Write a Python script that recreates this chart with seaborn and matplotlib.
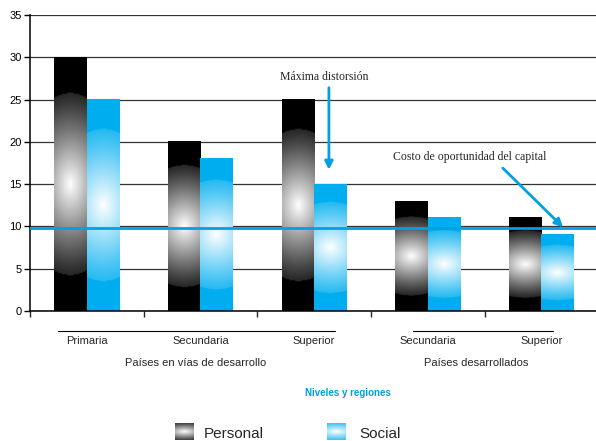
import numpy as np
import pandas as pd
import matplotlib
matplotlib.use('Agg')
import matplotlib.pyplot as plt
import seaborn as sns

# datos
claves = ['Primaria_dev', 'Secundaria_dev', 'Superior_dev', 'Secundaria_des', 'Superior_des']
etiquetas = ['Primaria', 'Secundaria', 'Superior', 'Secundaria', 'Superior']
personal = [30, 20, 25, 13, 11]
social = [25, 18, 15, 11, 9]
regiones = ['Países en vías de desarrollo', 'Países desarrollados']
costo_capital = 9.8

NEGRO = '#000000'
CIAN = '#00AEEF'
LINEA = '#00A0E3'

df = pd.DataFrame({
    'clave': claves * 2,
    'valor': personal + social,
    'tipo': ['Personal'] * len(personal) + ['Social'] * len(social),
})

sns.set_style('white')
plt.rcParams['font.family'] = ['Liberation Sans', 'DejaVu Sans']

fig = plt.figure(figsize=(5.96, 4.41), dpi=100)
ax = fig.add_axes([30 / 596, 1 - 311 / 441, 566 / 596, 296 / 441])

sns.barplot(data=df, x='clave', y='valor', hue='tipo', order=claves,
            palette={'Personal': NEGRO, 'Social': CIAN}, saturation=1,
            width=0.57, linewidth=0, legend=False, ax=ax)

ax.set_xlim(-0.5, 4.48)
ax.set_ylim(0, 35)
fig.canvas.draw()

# pixeles por unidad de datos
p0, p1 = ax.transData.transform([(0, 0), (1, 1)])
px_x, px_y = p1 - p0


def gradiente(base, ancho_px, alto_px, nx=40, ny=200, ry_frac=0.36):
    xs = (np.linspace(0, 1, nx) - 0.5) * ancho_px
    ys = (np.linspace(0, 1, ny) - 0.5) * alto_px
    xx, yy = np.meshgrid(xs, ys)
    rx = 1.6 * ancho_px
    ry = ry_frac * alto_px
    t = np.sqrt((xx / rx) ** 2 + (yy / ry) ** 2)
    w = np.where(t < 1, 0.15 + 0.85 * (1 - t) ** 1.1, 0.0)
    rgb = np.array(matplotlib.colors.to_rgb(base))
    img = rgb[None, None, :] * (1 - w[..., None]) + w[..., None]
    return np.clip(img, 0, 1)


for patch in list(ax.patches):
    x0, w = patch.get_x(), patch.get_width()
    h = patch.get_height()
    if h <= 0:
        continue
    img = gradiente(patch.get_facecolor()[:3], w * px_x, h * px_y)
    ax.imshow(img, extent=(x0, x0 + w, 0, h), origin='lower', aspect='auto',
              interpolation='bilinear', zorder=2.5)

ax.set_xlim(-0.5, 4.48)
ax.set_ylim(0, 35)

# rejilla y ejes
ax.set_yticks(range(0, 36, 5))
ax.yaxis.grid(True, color='#333333', linewidth=0.9)
ax.xaxis.grid(False)
ax.set_axisbelow(True)
for s in ['top', 'right']:
    ax.spines[s].set_visible(False)
for s in ['left', 'bottom']:
    ax.spines[s].set_color('black')
    ax.spines[s].set_linewidth(1.1)
ax.tick_params(axis='y', direction='out', length=4, width=1, labelsize=8,
               pad=2, left=True, colors='black')

ax.set_xticks(range(len(claves)))
ax.set_xticklabels(etiquetas, fontsize=8)
ax.set_xticks(np.arange(-0.5, 4.0, 1), minor=True)
ax.tick_params(axis='x', which='major', length=0, pad=18)
ax.tick_params(axis='x', which='minor', direction='out', length=4, width=1,
               bottom=True)
ax.set_xlabel('')
ax.set_ylabel('')

# linea del costo de oportunidad
ax.axhline(costo_capital, color=LINEA, linewidth=2, zorder=3)

# anotaciones
flecha = dict(arrowstyle='-|>', color=LINEA, lw=2, mutation_scale=12,
              shrinkA=0, shrinkB=0)
ax.annotate('', xy=(2.13, 16.7), xytext=(2.13, 26.4), arrowprops=flecha,
            zorder=4)
ax.text(2.09, 27.7, 'Máxima distorsión', ha='center', va='center',
        fontsize=8.5, family=['Liberation Serif', 'DejaVu Serif'], zorder=4)
ax.annotate('', xy=(4.19, 9.9), xytext=(3.66, 16.9), arrowprops=flecha,
            zorder=4, annotation_clip=False)
ax.text(3.37, 18.2, 'Costo de oportunidad del capital', ha='center',
        va='center', fontsize=8.5, family=['Liberation Serif', 'DejaVu Serif'],
        zorder=4)

# agrupacion por regiones
tr = ax.get_xaxis_transform()
ax.plot([-0.25, 2.18], [-0.068, -0.068], color='black', lw=0.8,
        transform=tr, clip_on=False)
ax.plot([2.87, 4.1], [-0.068, -0.068], color='black', lw=0.8,
        transform=tr, clip_on=False)
ax.text(0.96, -0.176, regiones[0], ha='center', va='center', fontsize=8,
        transform=tr)
ax.text(3.43, -0.176, regiones[1], ha='center', va='center', fontsize=8,
        transform=tr)
ax.text(2.3, -0.277, 'Niveles y regiones', ha='center', va='center',
        fontsize=7, fontweight='bold', color=LINEA, transform=tr)

# leyenda con muestras de gradiente
for x_px, base, nombre, tx in [(175, NEGRO, 'Personal', 204),
                               (327, CIAN, 'Social', 359)]:
    lax = fig.add_axes([x_px / 596, 1 / 441, 19 / 596, 17 / 441])
    lax.imshow(gradiente(base, 19, 17, nx=30, ny=30, ry_frac=0.6),
               extent=(0, 1, 0, 1), aspect='auto', interpolation='bilinear')
    lax.axis('off')
    fig.text(tx / 596, 1 - 434 / 441, nombre, fontsize=11, va='center',
             ha='left')

fig.savefig('out.png', dpi=100)
